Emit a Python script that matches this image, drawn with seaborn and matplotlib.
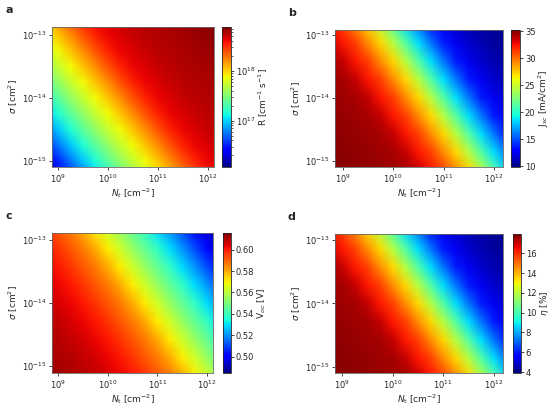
import numpy as np
import matplotlib
matplotlib.use("Agg")
import matplotlib.pyplot as plt
import seaborn as sns
from matplotlib.colors import LogNorm, Normalize
from matplotlib.ticker import FixedLocator, FuncFormatter, MultipleLocator

# grid positions (log10 of trap density and capture cross section)
log_nt = [8.75, 9.0, 9.25, 9.5, 9.75, 10.0, 10.25, 10.5, 10.75, 11.0,
          11.25, 11.5, 11.75, 12.0, 12.25]
# panel a: contours follow Nt*sigma = const
log_sigma_a = [-15.25, -15.0, -14.75, -14.5, -14.25, -14.0, -13.75, -13.5,
               -13.25, -13.0, -12.75]
# panels b-d: contours are a bit steeper (Nt * sigma^0.87 = const)
log_sigma_bcd = [-15.4368, -15.1494, -14.8621, -14.5747, -14.2874, -14.0,
                 -13.7126, -13.4253, -13.1379, -12.8506, -12.5632]

# values read along the diagonal (position -6.5, -6.25, ..., -0.5)
log_product = [-6.5, -6.25, -6.0, -5.75, -5.5, -5.25, -5.0, -4.75, -4.5,
               -4.25, -4.0, -3.75, -3.5, -3.25, -3.0, -2.75, -2.5, -2.25,
               -2.0, -1.75, -1.5, -1.25, -1.0, -0.75, -0.5]
log_R = [16.12, 16.30, 16.52, 16.74, 16.96, 17.16, 17.36, 17.55, 17.72,
         17.88, 18.04, 18.20, 18.38, 18.52, 18.61, 18.66, 18.70, 18.73,
         18.75, 18.77, 18.79, 18.81, 18.83, 18.85, 18.86]
jsc = [35.07, 35.02, 34.95, 34.87, 34.77, 34.64, 34.49, 34.31, 33.68,
       32.29, 31.15, 29.13, 27.10, 24.32, 21.29, 18.50, 15.97, 13.70,
       12.43, 11.67, 11.04, 10.66, 10.41, 10.15, 10.03]
voc = [0.6143, 0.6130, 0.6117, 0.6104, 0.6091, 0.6077, 0.6058, 0.6032,
       0.6005, 0.5966, 0.5920, 0.5868, 0.5803, 0.5711, 0.5632, 0.5547,
       0.5462, 0.5384, 0.5292, 0.5200, 0.5109, 0.5017, 0.4952, 0.4899,
       0.4860]
eta = [17.88, 17.85, 17.81, 17.77, 17.71, 17.64, 17.56, 17.46, 17.11,
       16.33, 15.70, 14.58, 13.45, 11.91, 10.22, 8.68, 7.27, 6.01, 5.31,
       4.88, 4.53, 4.32, 4.18, 4.04, 3.97]

sns.set_theme(style="ticks")
plt.rcParams["font.family"] = ["DejaVu Sans"]
cmap = matplotlib.colormaps["jet"]
fs_tick = 6
fs_lab = 6.5


def to_grid(profile, ys):
    # value only depends on the diagonal position -> index by i + j
    return np.array([[profile[i + j] for j in range(len(log_nt))]
                     for i in range(len(ys))])


def pow_fmt(v, pos):
    return "$10^{%d}$" % int(round(v))


fig = plt.figure(figsize=(5.5, 4.05), dpi=100)
W, H = 550.0, 405.0

panels = [
    dict(letter="a", Z=10 ** to_grid(log_R, log_sigma_a), ys=log_sigma_a,
         norm=LogNorm(10 ** 16.07, 10 ** 18.88), step=None,
         clabel=r"R [cm$^{-1}$ s$^{-1}$]", box=(52, 27, 214, 167), cbx=(222, 231),
         xlab=r"$N_t$ [cm$^{-2}$]", xlim=(8.88, 12.13), ylim=(-15.095, -12.873)),
    dict(letter="b", Z=to_grid(jsc, log_sigma_bcd), ys=log_sigma_bcd,
         norm=Normalize(9.9, 35.2), step=5,
         clabel=r"J$_{sc}$ [mA/cm$^2$]", box=(335, 30, 503, 167), cbx=(511, 520),
         xlab=r"$N_\mathrm{t}$ [cm$^{-2}$]", xlim=(8.84, 12.18), ylim=(-15.1, -12.92)),
    dict(letter="c", Z=to_grid(voc, log_sigma_bcd), ys=log_sigma_bcd,
         norm=Normalize(0.4847, 0.6156), step=0.02,
         clabel=r"V$_{oc}$ [V]", box=(52, 233, 213, 373), cbx=(223, 231),
         xlab=r"$N_\mathrm{t}$ [cm$^{-2}$]", xlim=(8.88, 12.12), ylim=(-15.116, -12.89)),
    dict(letter="d", Z=to_grid(eta, log_sigma_bcd), ys=log_sigma_bcd,
         norm=Normalize(3.9, 17.95), step=2,
         clabel=r"$\eta$ [%]", box=(335, 234, 503, 373), cbx=(513, 521),
         xlab=r"$N_\mathrm{t}$ [cm$^{-2}$]", xlim=(8.86, 12.18), ylim=(-15.1, -12.905)),
]

dx = (log_nt[1] - log_nt[0]) / 2

for p in panels:
    x0, y0, x1, y1 = p["box"]
    ys = p["ys"]
    dy = (ys[1] - ys[0]) / 2
    extent = [log_nt[0] - dx, log_nt[-1] + dx, ys[0] - dy, ys[-1] + dy]

    ax = fig.add_axes([x0 / W, 1 - y1 / H, (x1 - x0) / W, (y1 - y0) / H])
    im = ax.imshow(p["Z"], origin="lower", extent=extent, aspect="auto",
                   cmap=cmap, norm=p["norm"], interpolation="bilinear",
                   interpolation_stage="rgba")
    ax.set_xlim(*p["xlim"])
    ax.set_ylim(*p["ylim"])
    ax.xaxis.set_major_locator(FixedLocator([9, 10, 11, 12]))
    ax.yaxis.set_major_locator(FixedLocator([-15, -14, -13]))
    ax.xaxis.set_major_formatter(FuncFormatter(pow_fmt))
    ax.yaxis.set_major_formatter(FuncFormatter(pow_fmt))
    ax.tick_params(labelsize=fs_tick, length=2.5, width=0.6, pad=1.5)
    ax.set_xlabel(p["xlab"], fontsize=fs_lab, labelpad=1)
    ax.set_ylabel(r"$\sigma$ [cm$^2$]", fontsize=fs_lab, labelpad=1)
    for sp in ax.spines.values():
        sp.set_linewidth(0.6)
        sp.set_color("#666666")

    cx0, cx1 = p["cbx"]
    cax = fig.add_axes([cx0 / W, 1 - y1 / H, (cx1 - cx0) / W, (y1 - y0) / H])
    cb = fig.colorbar(im, cax=cax)
    if p["step"] is not None:
        cb.ax.yaxis.set_major_locator(MultipleLocator(p["step"]))
    cb.outline.set_linewidth(0.6)
    cb.ax.tick_params(labelsize=fs_tick, length=2.5, width=0.6, pad=1)
    cb.ax.tick_params(which="minor", length=1.5, width=0.5)
    cb.set_label(p["clabel"], fontsize=fs_lab, labelpad=1)

    fig.text((x0 - 47) / W, 1 - (y0 - 17) / H, p["letter"], fontsize=8,
             fontweight="bold", va="center", ha="left")

fig.savefig("out.png", dpi=100)
